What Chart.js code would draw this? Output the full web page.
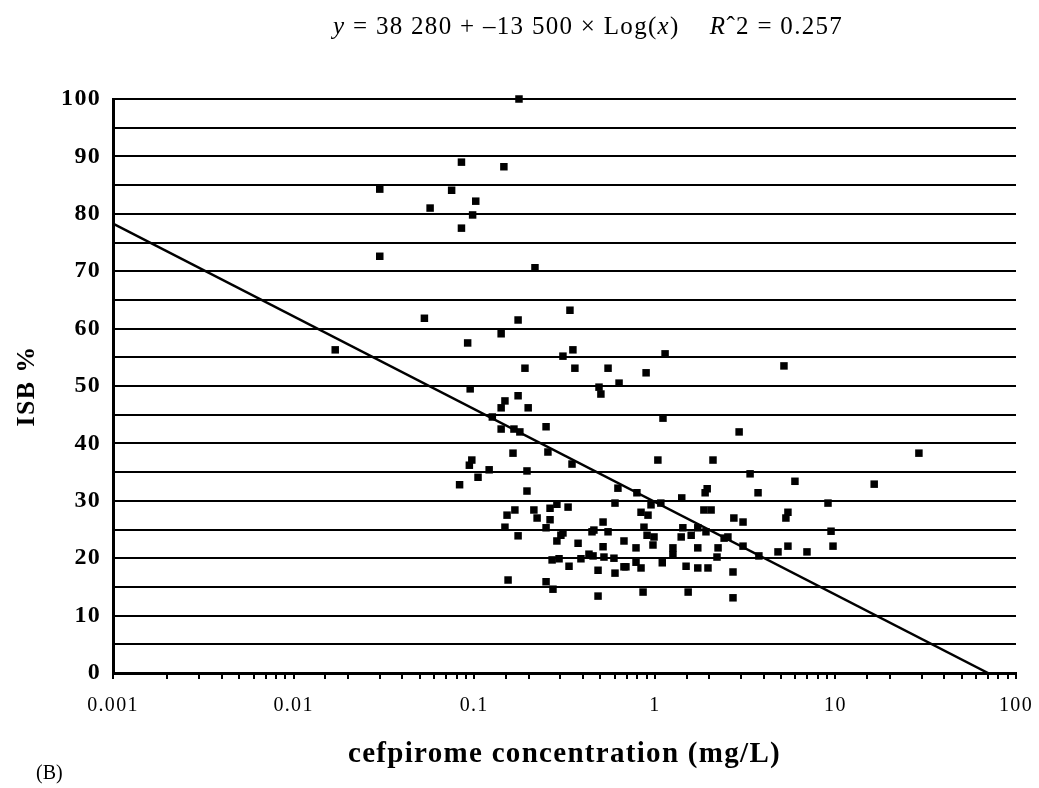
<!DOCTYPE html>
<html>
<head>
<meta charset="utf-8">
<script src="https://cdn.jsdelivr.net/npm/chart.js@4/dist/chart.umd.min.js"></script>
<style>
  body { margin: 0; background: #fff; }
  #wrap { position: relative; width: 1039px; height: 788px; }
  #eq {
    position: absolute; top: 12px; left: 333px;
    font: 25px "Liberation Serif", serif; color: #000; white-space: pre;
    letter-spacing: 1.3px;
  }
  #tag {
    position: absolute; top: 761px; left: 36px;
    font: 20px "Liberation Serif", serif; color: #000;
  }
</style>
</head>
<body>
<div id="wrap">
  <canvas id="chart" width="1039" height="788"></canvas>
  <div id="eq"><i>y</i> = 38 280 + –13 500 × Log(<i>x</i>)    <i>R</i>ˆ2 = 0.257</div>
  <div id="tag">(B)</div>
</div>
<script>
// cefpirome concentration (mg/L)
const concX = [
  0.017, 0.030, 0.030, 0.053, 0.057, 0.075, 0.085, 0.085, 0.098, 0.102,
  0.146, 0.177, 0.217, 0.175, 0.141, 0.092, 0.339, 0.352, 0.310, 0.191,
  0.361, 0.551, 1.14, 0.895, 0.491, 0.503, 0.634, 0.095, 0.175, 0.148,
  0.141, 0.199, 0.126, 0.141, 0.166, 0.179, 0.250, 1.11, 2.93, 5.19,
  29.0, 16.4,
  0.256, 0.164, 0.097, 0.094, 0.121, 0.105, 0.196, 0.083, 0.348, 1.04,
  2.10, 3.37, 5.97, 0.196, 0.625, 0.796, 1.95, 1.90, 3.73, 1.41,
  9.10, 0.287, 0.263, 0.168, 0.152, 0.214, 0.223, 0.263, 0.148, 0.250,
  0.175, 0.287, 0.602, 0.331, 1.08, 0.953, 0.839, 0.917, 1.87, 2.05,
  2.74, 3.08, 5.46, 5.32, 0.310, 0.517, 0.460, 0.551, 0.871, 0.906,
  1.43, 1.73, 1.92, 1.40, 1.59, 2.42, 0.990, 9.46, 0.376, 0.517,
  0.675, 0.787, 0.977, 1.26, 1.73, 2.24, 3.08, 5.46, 4.81, 6.96,
  9.70, 2.54, 0.302, 0.449,
  0.270, 0.335, 0.390, 0.455, 0.523, 0.594, 0.675, 0.787, 0.839, 1.10,
  1.26, 1.49, 1.73, 1.97, 2.21, 3.77, 0.485, 0.602, 2.71, 0.154,
  0.250, 0.273, 0.485, 0.861, 1.53, 2.71, 0.692, 0.295, 0.432
];
// ISB %
const isbY = [
  56.3, 84.3, 72.6, 61.8, 81.0, 84.1, 89.0, 77.5, 79.8, 82.2,
  88.2, 100, 70.6, 61.5, 59.1, 57.5, 63.2, 56.3, 55.2, 53.1,
  53.1, 53.1, 55.6, 52.3, 49.8, 48.6, 50.5, 49.5, 48.3, 47.4,
  46.2, 46.2, 44.6, 42.5, 42.5, 42.0, 42.9, 44.4, 42.0, 53.5,
  38.3, 32.9,
  38.5, 38.3, 37.1, 36.2, 35.4, 34.1, 35.2, 32.8, 36.4, 37.1,
  37.1, 34.7, 33.4, 31.7, 32.2, 31.4, 32.1, 31.4, 31.4, 30.5,
  29.6, 29.4, 28.7, 28.4, 27.5, 28.4, 27.0, 26.7, 25.4, 25.3,
  23.9, 23.0, 29.6, 28.9, 29.6, 29.3, 28.0, 27.5, 28.4, 28.4,
  27.0, 26.3, 28.0, 27.0, 24.4, 26.3, 24.9, 24.6, 25.4, 24.0,
  25.3, 25.3, 24.6, 23.7, 24.0, 23.5, 23.7, 24.7, 22.6, 22.0,
  23.0, 21.8, 22.3, 21.8, 21.8, 21.8, 22.1, 22.1, 21.1, 21.1,
  22.1, 23.7, 24.0, 24.6,
  19.7, 18.6, 19.9, 20.4, 20.2, 20.0, 18.5, 19.3, 18.3, 19.2,
  20.6, 18.6, 18.3, 18.3, 20.2, 20.4, 17.9, 17.4, 17.6, 16.2,
  15.9, 14.6, 13.4, 14.1, 14.1, 13.1, 18.5, 19.9, 20.7
];

// fitted line as drawn in the figure (end points)
const fitX = [0.001, 70];
const fitY = [78.3, 0];

const xTickValues = [0.001, 0.01, 0.1, 1, 10, 100];
const xTickLabels = ['0.001', '0.01', '0.1', '1', '10', '100'];

const serif = '"Liberation Serif", "Times New Roman", serif';

// the scanned figure's type is set a little wider than Times
const wideText = {
  id: 'wideText',
  beforeDraw(chart) { chart.ctx.letterSpacing = '1.3px'; }
};

const ctx = document.getElementById('chart').getContext('2d');
new Chart(ctx, {
  type: 'scatter',
  data: {
    datasets: [
      {
        label: 'ISB',
        data: concX.map((x, i) => ({ x: x, y: isbY[i] })),
        pointStyle: 'rect',
        pointRadius: 5.3,
        backgroundColor: '#000',
        borderWidth: 0,
        clip: false
      },
      {
        label: 'fit',
        data: fitX.map((x, i) => ({ x: x, y: fitY[i] })),
        showLine: true,
        borderColor: '#000',
        borderWidth: 2.5,
        pointRadius: 0
      }
    ]
  },
  plugins: [wideText],
  options: {
    responsive: false,
    animation: false,
    layout: { padding: { top: 99, right: 23, bottom: 8, left: 0 } },
    plugins: {
      legend: { display: false },
      tooltip: { enabled: false }
    },
    scales: {
      x: {
        type: 'logarithmic',
        min: 0.001,
        max: 100,
        border: { display: true, color: '#000', width: 3 },
        grid: { drawOnChartArea: false, drawTicks: true, tickLength: 6, color: '#000', lineWidth: 2 },
        ticks: {
          autoSkip: false,
          maxRotation: 0,
          padding: 15,
          color: '#000',
          font: { family: serif, size: 20 },
          callback: function (v) {
            const i = xTickValues.findIndex(t => Math.abs(Math.log10(t) - Math.log10(v)) < 1e-6);
            return i >= 0 ? xTickLabels[i] : '';
          }
        },
        title: {
          display: true,
          text: 'cefpirome concentration (mg/L)',
          color: '#000',
          font: { family: serif, size: 29, weight: 'bold' },
          padding: { top: 0, bottom: 8 }
        },
        afterFit: s => {
          s.height = 107;
          s.paddingLeft = 0;
          s.paddingRight = 0;
        }
      },
      y: {
        min: 0,
        max: 100,
        border: { display: true, color: '#000', width: 3 },
        grid: { color: '#000', lineWidth: 2, drawTicks: false },
        ticks: {
          stepSize: 5,
          autoSkip: false,
          padding: 12,
          color: '#000',
          font: { family: serif, size: 24, weight: 'bold' },
          callback: v => (v % 10 === 0 ? v : '')
        },
        title: {
          display: true,
          text: 'ISB %',
          color: '#000',
          font: { family: serif, size: 26, weight: 'bold' },
          padding: { top: 12, bottom: 0 }
        },
        afterFit: s => { s.width = 113; }
      }
    }
  }
});
</script>
</body>
</html>
